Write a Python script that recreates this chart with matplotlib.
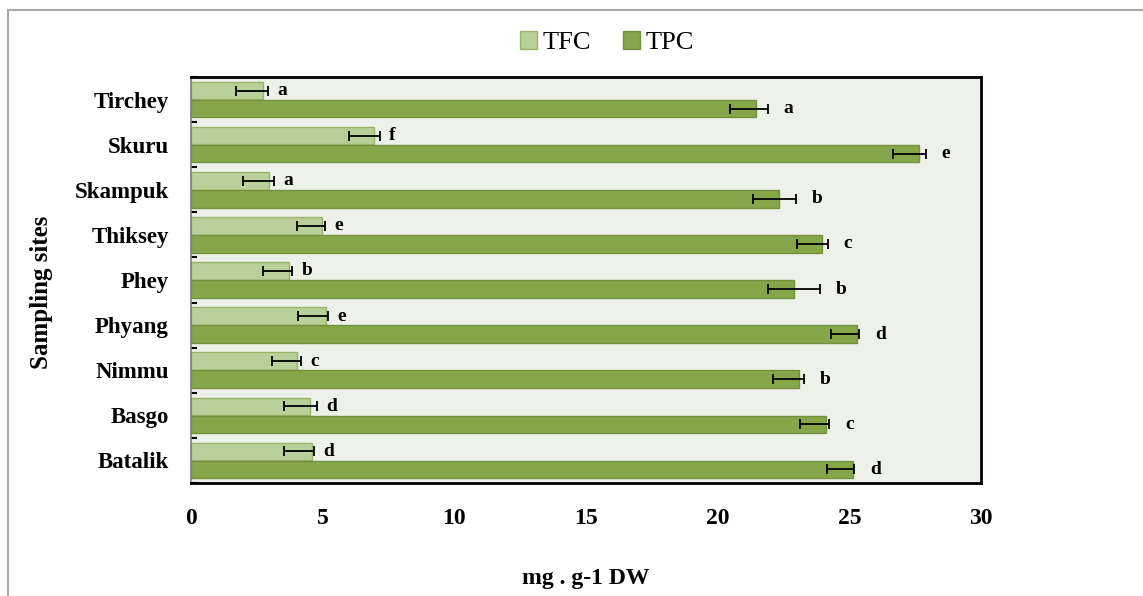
import matplotlib.pyplot as plt
from matplotlib.lines import Line2D
import numpy as np

sites = ["Tirchey", "Skuru", "Skampuk", "Thiksey", "Phey", "Phyang", "Nimmu", "Basgo", "Batalik"]

tfc = [2.73, 6.95, 2.96, 4.98, 3.72, 5.13, 4.03, 4.52, 4.59]
tfc_err_lo = [1.02, 0.95, 0.99, 0.95, 0.99, 1.07, 0.97, 0.99, 1.06]
tfc_err_hi = [0.19, 0.23, 0.19, 0.11, 0.12, 0.07, 0.15, 0.26, 0.08]
tfc_letters = ["a", "f", "a", "e", "b", "e", "c", "d", "d"]

tpc = [21.46, 27.65, 22.33, 23.96, 22.90, 25.29, 23.09, 24.12, 25.14]
tpc_err_lo = [0.99, 0.99, 0.99, 0.95, 0.99, 0.98, 0.99, 0.99, 0.99]
tpc_err_hi = [0.45, 0.26, 0.65, 0.23, 0.99, 0.08, 0.19, 0.11, 0.04]
tpc_letters = ["a", "e", "b", "c", "b", "d", "b", "c", "d"]

plt.rcParams['font.family'] = ['Liberation Serif', 'DejaVu Serif']

fig = plt.figure(figsize=(11.43, 5.96), dpi=100)
ax = fig.add_axes([0.1671, 0.1896, 0.6912, 0.6812])
ax.set_facecolor('#EEF1E9')

y = np.arange(len(sites))
h = 0.39
err_kw = dict(ecolor='black', elinewidth=1.3, capsize=3.6, capthick=1.3)

ax.barh(y - 0.2, tfc, height=h, color='#B9D09A', edgecolor='#9AB46C', linewidth=1,
        xerr=[tfc_err_lo, tfc_err_hi], error_kw=err_kw, label='TFC')
ax.barh(y + 0.2, tpc, height=h, color='#86A64A', edgecolor='#74913F', linewidth=1,
        xerr=[tpc_err_lo, tpc_err_hi], error_kw=err_kw, label='TPC')

for i in range(len(sites)):
    ax.text(tfc[i] + tfc_err_hi[i] + 0.35, y[i] - 0.2, tfc_letters[i], ha='left', va='center',
            fontsize=14, fontweight='bold')
    ax.text(tpc[i] + tpc_err_hi[i] + 0.6, y[i] + 0.2, tpc_letters[i], ha='left', va='center',
            fontsize=14, fontweight='bold')

ax.set_xlim(0, 30)
ax.set_ylim(8.5, -0.5)
ax.set_xticks([0, 5, 10, 15, 20, 25, 30])
ax.tick_params(axis='x', length=0, pad=18, labelsize=17)
ax.set_yticks(y)
ax.set_yticklabels(sites, fontweight='bold')
ax.tick_params(axis='y', length=0, pad=16, labelsize=16.5)
ax.set_yticks(np.arange(len(sites) + 1) - 0.5, minor=True)
ax.tick_params(axis='y', which='minor', direction='in', length=4, width=1.5, color='black')
for lab in ax.get_xticklabels():
    lab.set_fontweight('bold')

for side in ['top', 'right', 'bottom']:
    ax.spines[side].set_linewidth(2)
    ax.spines[side].set_color('black')
ax.spines['left'].set_linewidth(1.2)
ax.spines['left'].set_color('#808080')

ax.set_xlabel("mg . g-1 DW", fontsize=17, fontweight='bold', labelpad=28)
fig.text(0.036, 0.51, "Sampling sites", rotation=90, ha='center', va='center',
         fontsize=18, fontweight='bold')

fig.legend(loc='center', bbox_to_anchor=(0.531, 0.928), ncol=2, frameon=False,
           fontsize=19, handlelength=0.65, handleheight=0.65, handletextpad=0.2,
           columnspacing=1.2)

# outer frame
fig.add_artist(Line2D([8 / 1143, 1], [1 - 10 / 596, 1 - 10 / 596], color='#A8A8A8', lw=1.5))
fig.add_artist(Line2D([8 / 1143, 8 / 1143], [0, 1 - 10 / 596], color='#A8A8A8', lw=1.5))

fig.savefig('out.png', dpi=100)
